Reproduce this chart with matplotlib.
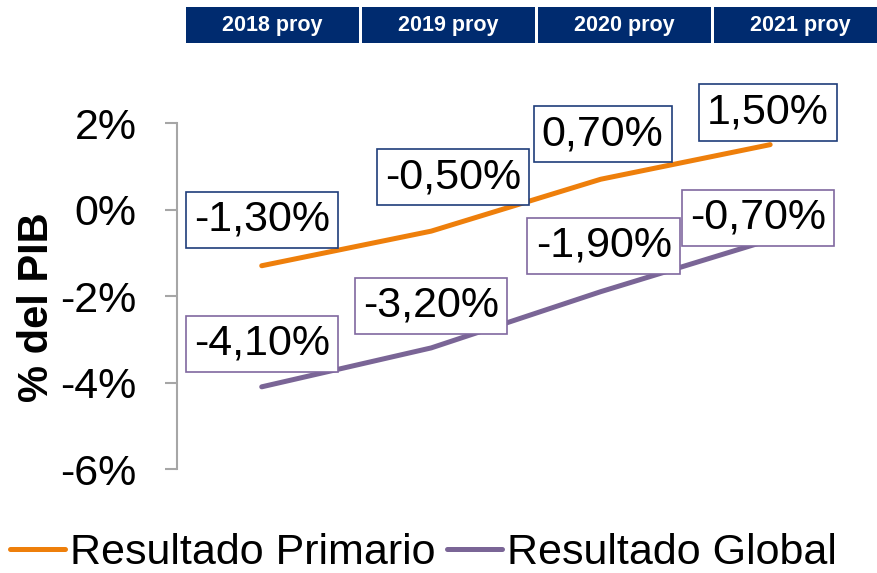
import matplotlib.pyplot as plt
from matplotlib.patches import Rectangle

years = ['2018 proy', '2019 proy', '2020 proy', '2021 proy']
primario = [-1.3, -0.5, 0.7, 1.5]
global_ = [-4.1, -3.2, -1.9, -0.7]
prim_labels = ['-1,30%', '-0,50%', '0,70%', '1,50%']
glob_labels = ['-4,10%', '-3,20%', '-1,90%', '-0,70%']

orange = '#EE7F0B'
purple = '#7A6596'
navy = '#002B6F'

plt.rcParams['font.family'] = ['Liberation Sans', 'DejaVu Sans']

fig = plt.figure(figsize=(8.77, 5.73), dpi=100)
ax = fig.add_axes([0.2018, 0.1815, 0.773, 0.6038])

x = list(range(len(years)))
ax.plot(x, primario, color=orange, lw=3.6, solid_capstyle='round', label='Resultado Primario')
ax.plot(x, global_, color=purple, lw=3.6, solid_capstyle='round', label='Resultado Global')

# label offsets in pixels (dx, dy) from data points
prim_off = [(0, 46), (22, 54), (2, 45), (-2, 32)]
glob_off = [(0, 43), (0, 42), (3, 46), (-12, 22)]

for i in x:
    ax.annotate(prim_labels[i], (i, primario[i]), xytext=prim_off[i], textcoords='offset pixels',
                ha='center', va='center', fontsize=31,
                bbox=dict(boxstyle='square,pad=0.19', fc='white', ec='#1F3D7A', lw=1.2))
    ax.annotate(glob_labels[i], (i, global_[i]), xytext=glob_off[i], textcoords='offset pixels',
                ha='center', va='center', fontsize=31,
                bbox=dict(boxstyle='square,pad=0.19', fc='white', ec='#8068A0', lw=1.2))

ax.set_xlim(-0.5, 3.5)
ax.set_ylim(-6, 2)
ax.set_yticks([2, 0, -2, -4, -6])
ax.set_yticklabels(['2%', '0%', '-2%', '-4%', '-6%'], fontsize=31)
ax.set_xticks([])
for s in ['top', 'right', 'bottom']:
    ax.spines[s].set_visible(False)
ax.spines['left'].set_color('#A6A6A6')
ax.spines['left'].set_linewidth(1.5)
ax.tick_params(axis='y', length=9, width=1.5, color='#A6A6A6', pad=20)
ax.set_ylabel('% del PIB', fontsize=30, fontweight='bold')
ax.yaxis.set_label_coords(-0.177, 0.468)

# header boxes
left0 = 186 / 877
w = 173 / 877
for i, yr in enumerate(years):
    x0 = left0 + i * (w + 3 / 877)
    fig.patches.append(Rectangle((x0, 1 - 43 / 573), w, 36 / 573, transform=fig.transFigure,
                                 fc=navy, ec='none'))
    fig.text(x0 + w / 2, 1 - 26 / 573, yr, color='white', fontsize=15.5, fontweight='bold',
             ha='center', va='center')

leg = fig.legend(loc='center left', bbox_to_anchor=(10 / 877, 1 - 553 / 573), ncol=2, frameon=False,
                 fontsize=31, handlelength=1.28, handletextpad=0.12, columnspacing=0.25,
                 borderpad=0, borderaxespad=0)

fig.savefig('out.png', dpi=100)
